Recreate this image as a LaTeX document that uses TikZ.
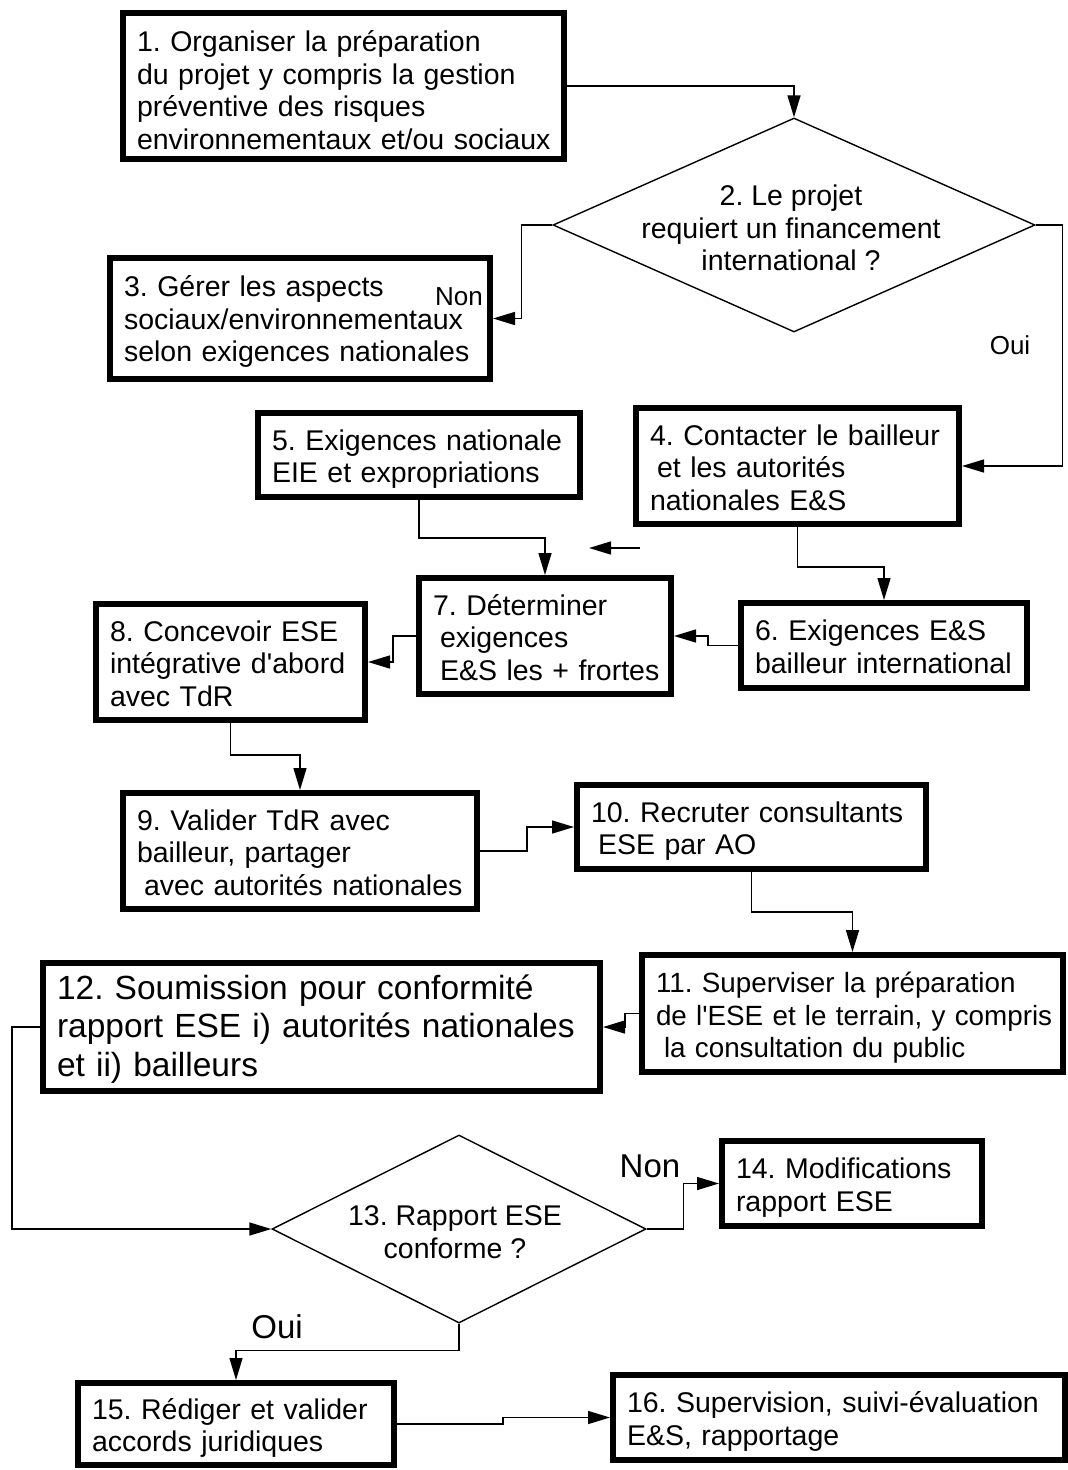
\documentclass[tikz,border=0pt]{standalone}
\usepackage{fontspec}
\setmainfont{Liberation Sans}
\usetikzlibrary{arrows.meta,shapes.geometric}
\frenchspacing
% lines of a box, kept unbroken and left aligned; optional downward shift
\newcommand\boxlines[2][5pt]{\raisebox{-#1}[\height][\depth]{\begin{tabular}{@{}l@{}}#2\end{tabular}}}
\begin{document}
\begin{tikzpicture}[x=1pt,y=-1pt,
  box/.style={draw,line width=6pt,rectangle,align=left,inner xsep=14pt,inner ysep=0pt,
    font=\fontsize{28.5}{32.5}\selectfont},
  bigbox/.style={box,font=\fontsize{33.5}{38.5}\selectfont},
  dia/.style={draw,line width=1.4pt,diamond,inner sep=0pt},
  diatext/.style={align=center,inner sep=0pt,font=\fontsize{28.5}{32.5}\selectfont},
  arr/.style={line width=1.5pt,-{Triangle[length=22pt,width=13pt]}},
  lbl/.style={inner sep=0pt,font=\fontsize{26}{30}\selectfont},
  biglbl/.style={inner sep=0pt,font=\fontsize{33}{38}\selectfont},
]
\useasboundingbox (0,0) rectangle (1068,1470);
\fill[white] (0,0) rectangle (1068,1470);

% boxes
\node[box,minimum width=441pt,minimum height=146pt,text width=413pt] (b1) at (343.5,86)
  {\boxlines[8pt]{1. Organiser la préparation\\du projet y compris la gestion\\préventive des risques\\environnementaux et/ou sociaux}};
\node[box,minimum width=380pt,minimum height=121pt,text width=352pt] (b3) at (300,318.5)
  {\boxlines[4pt]{3. Gérer les aspects\\sociaux/environnementaux\\selon exigences nationales}};
\node[box,minimum width=322pt,minimum height=84pt,text width=294pt] (b5) at (419,455)
  {\boxlines{5. Exigences nationale\\EIE et expropriations}};
\node[box,minimum width=323pt,minimum height=116pt,text width=295pt] (b4) at (797.5,466)
  {\boxlines{4. Contacter le bailleur\\\hspace*{7pt}et les autorités\\nationales E\&S}};
\node[box,minimum width=252pt,minimum height=116pt,text width=224pt] (b7) at (545,636)
  {\boxlines{7. Déterminer\\\hspace*{7pt}exigences\\\hspace*{7pt}E\&S les + frortes}};
\node[box,minimum width=286pt,minimum height=85pt,text width=258pt] (b6) at (884,645.5)
  {\boxlines{6. Exigences E\&S\\bailleur international}};
\node[box,minimum width=269pt,minimum height=116pt,text width=241pt] (b8) at (230.5,662)
  {\boxlines{8. Concevoir ESE\\intégrative d\textquotesingle abord\\avec TdR}};
\node[box,minimum width=354pt,minimum height=116pt,text width=326pt] (b9) at (300,851)
  {\boxlines{9. Valider TdR avec\\bailleur, partager\\\hspace*{7pt}avec autorités nationales}};
\node[box,minimum width=349pt,minimum height=84pt,text width=321pt] (b10) at (751.5,827)
  {\boxlines{10. Recruter consultants\\\hspace*{7pt}ESE par AO}};
\node[box,minimum width=421pt,minimum height=117pt,text width=393pt,
      font=\fontsize{27.8}{32.5}\selectfont] (b11) at (852.5,1013.5)
  {\boxlines{11. Superviser la préparation\\de l\textquotesingle ESE et le terrain, y compris\\\hspace*{8pt}la consultation du public}};
\node[bigbox,minimum width=557pt,minimum height=128pt,text width=529pt] (b12) at (321.5,1027)
  {\boxlines[3pt]{12. Soumission pour conformité\\rapport ESE i) autorités nationales\\et ii) bailleurs}};
\node[box,minimum width=260pt,minimum height=85pt,text width=232pt] (b14) at (852,1183.5)
  {\boxlines{14. Modifications\\rapport ESE}};
\node[box,minimum width=316pt,minimum height=82pt,text width=288pt] (b15) at (236,1424)
  {\boxlines{15. Rédiger et valider\\accords juridiques}};
\node[box,minimum width=452pt,minimum height=85pt,text width=424pt] (b16) at (839,1417.5)
  {\boxlines{16. Supervision, suivi-évaluation\\E\&S, rapportage}};

% decisions
\node[dia,minimum width=482pt,minimum height=214pt] (d2) at (794,225) {};
\node[diatext] (t2) at (791,228) {2. Le projet\\requiert un financement\\international ?};
\node[dia,minimum width=374pt,minimum height=188pt] (d13) at (459,1229) {};
\node[diatext] (t13) at (455,1232) {13. Rapport ESE\\conforme ?};

% connectors
\draw[arr] (d2.west) -- ++(-31,0) |- (b3.east);
\draw[arr] (b1.east) -| (d2.north);
\draw[arr] (d2.east) -- ++(27,0) |- (b4.east);
\draw[arr] (b5.south) -- ++(0,38) -| (b7.north);
\draw[arr] (b4.south) -- ++(0,40) -| (b6.north);
\draw[arr] (b6.west) -- ++(-30,0) |- (b7.east);
\draw[arr] (b7.west) -- ++(-23,0) |- (b8.east);
\draw[arr] (b8.south) -- ++(0,32) -| (b9.north);
\draw[arr] (b9.east) -- ++(47,0) |- (b10.west);
\draw[arr] (b10.south) -- ++(0,40) -| (b11.north);
\draw[arr] (b11.west) -- ++(-14,0) |- (b12.east);
\draw[arr] (b12.west) -- ++(-28,0) |- (d13.west);
\draw[arr] (d13.east) -- ++(37,0) |- (b14.west);
\draw[arr] (d13.south) -- ++(0,27) -| (b15.north);
\draw[arr] (b15.east) -- ++(106,0) |- (b16.west);

% loose arrow between boxes 5 and 4
\coordinate (sa) at (640,548);
\coordinate (sb) at (589,548);
\draw[arr] (sa) -- (sb);

% branch labels
\node[lbl] (non2) at (459,297) {Non};
\node[lbl] (oui2) at (1010,345) {Oui};
\node[biglbl] (non13) at (650,1166) {Non};
\node[biglbl] (oui13) at (277,1327) {Oui};
\end{tikzpicture}
\end{document}
